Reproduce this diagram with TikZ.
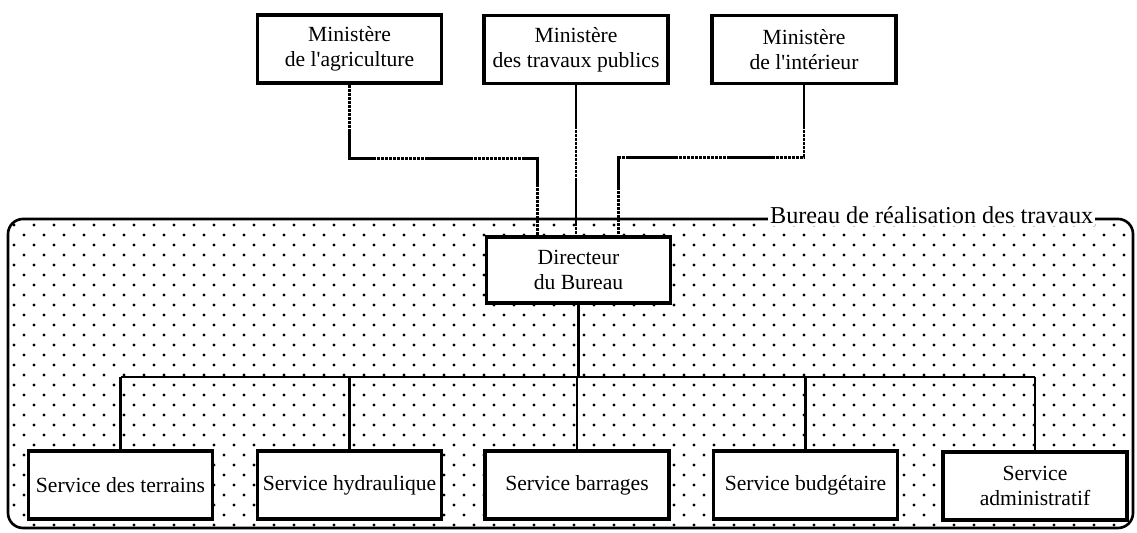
\documentclass[tikz,border=0pt]{standalone}
\usepackage{fontspec}
\setmainfont{Liberation Serif}
\usepackage{tikz}
\usetikzlibrary{positioning}
\newcommand{\orgfont}{\fontsize{12.3}{14}\selectfont}
\tikzset{
  orgbox/.style={
    draw, line width=1.8pt, fill=white,
    minimum width=3.68cm, minimum height=1.36cm,
    align=center, inner sep=2pt, font=\orgfont
  },
  orgline/.style={line width=1.5pt},
  minline/.style={line width=1.7pt, dash pattern=on 2pt off 0.3pt},
  bureaulabel/.style={fill=white, inner sep=1pt, font=\fontsize{13.8}{16}\selectfont}
}

\begin{document}
\begin{tikzpicture}[x=0.02cm, y=-0.02cm]
\useasboundingbox (0,0) rectangle (1137,533);

% Bureau area, dotted
\begin{scope}
  \clip[rounded corners=0.3cm] (8,219) rectangle (1133,528);
  \foreach \r in {0,...,31}{
    \pgfmathsetmacro{\sh}{mod(\r,2)*10}
    \foreach \c in {0,...,56}
      \fill (14+20*\c+\sh, 225+10*\r) circle (0.9pt);
  }
\end{scope}
\draw[orgline, rounded corners=0.3cm] (8,219) rectangle (1133,528);
\node[bureaulabel, anchor=base west] (bureau) at (768,224) {Bureau de réalisation des travaux};

% Ministries
\node[orgbox] (agri) at (349.5,49) {Ministère\\de l\textquotesingle agriculture};
\node[orgbox] (trav) at (576,49.5) {Ministère\\des travaux publics};
\node[orgbox] (inter) at (804,49.5) {Ministère\\de l\textquotesingle intérieur};

% Director
\node[orgbox, minimum height=1.32cm] (dir) at (578.5,270) {Directeur\\du Bureau};

% Services
\node[orgbox] (terr) at (120.5,485) {Service des terrains};
\node[orgbox] (hydr) at (349.5,485) {Service hydraulique};
\node[orgbox] (barr) at (577,485) {Service barrages};
\node[orgbox] (budg) at (805.5,485) {Service budgétaire};
\node[orgbox] (admi) at (1035,486) {Service\\administratif};

% Ministries -> director
\draw[minline] (agri.south) -- ++(0,74) -| ([xshift=-0.82cm]dir.north);
\draw[minline] (trav.south) -- (trav.south |- dir.north);
\draw[minline] (inter.south) -- ++(0,72) -| ([xshift=0.8cm]dir.north);

% Director -> services
\coordinate (bus) at (0,377);
\draw[orgline] (dir.south) -- (dir.south |- bus);
\draw[orgline] (terr.north |- bus) -- (admi.north |- bus);
\foreach \s in {terr,hydr,barr,budg,admi}
  \draw[orgline] (\s.north) -- (\s.north |- bus);

\end{tikzpicture}
\end{document}
